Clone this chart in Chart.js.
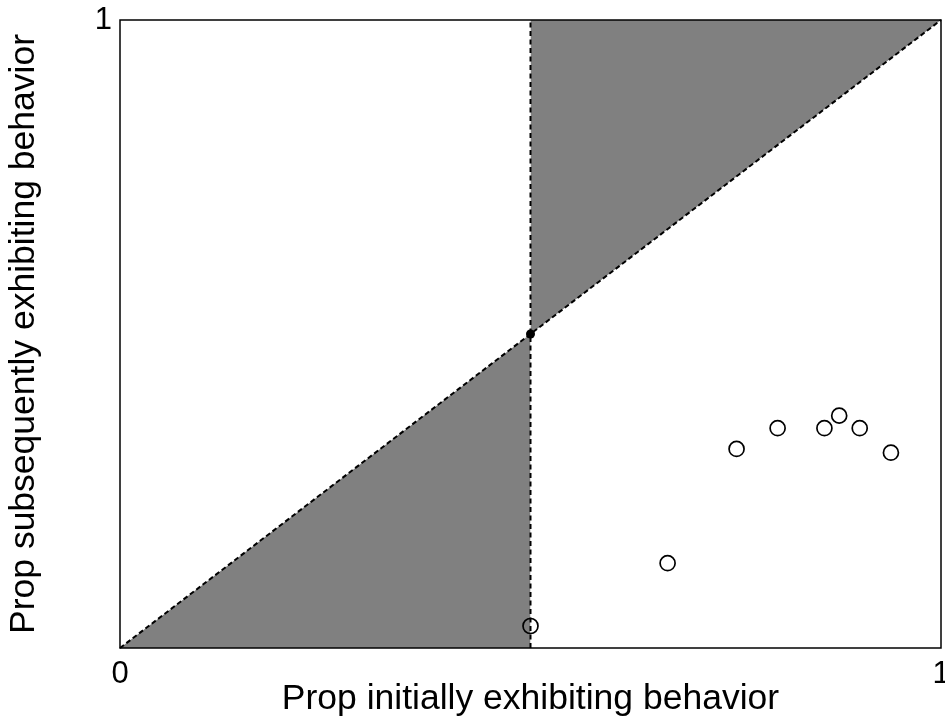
<!DOCTYPE html>
<html>
<head>
<meta charset="utf-8">
<script src="https://cdn.jsdelivr.net/npm/chart.js@4/dist/chart.umd.min.js"></script>
<style>
  html, body { margin: 0; padding: 0; background: #fff; }
</style>
</head>
<body>
<canvas id="propChart" width="945" height="721"></canvas>
<script>
const initialProp = [0.500, 0.667, 0.751, 0.801, 0.858, 0.876, 0.901, 0.939];
const subsequentProp = [0.035, 0.135, 0.317, 0.350, 0.350, 0.370, 0.350, 0.311];

// reference geometry: identity line and the 0.5 threshold
const diagonalX = [0, 1];
const diagonalY = [0, 1];
const thresholdX = 0.5;
const tickLabels = ["0", "1"];

const pts = (xs, ys) => xs.map((x, i) => ({ x: x, y: ys[i] }));

// frame round the plot area (top + right sides too)
const framePlugin = {
  id: "frame",
  afterDraw(chart) {
    const { ctx, chartArea: a } = chart;
    ctx.save();
    ctx.strokeStyle = "#000";
    ctx.lineWidth = 1.5;
    ctx.strokeRect(a.left, a.top, a.right - a.left, a.bottom - a.top);
    ctx.restore();
  }
};

const fontFam = "'Liberation Sans', Arial, sans-serif";

new Chart(document.getElementById("propChart"), {
  type: "scatter",
  data: {
    datasets: [
      {
        // lower shaded triangle
        data: pts([0, thresholdX], [0, thresholdX]),
        order: 4,
        showLine: true,
        borderWidth: 0,
        pointRadius: 0,
        backgroundColor: "#808080",
        fill: "origin"
      },
      {
        // upper shaded triangle
        data: pts([thresholdX, 1], [thresholdX, 1]),
        order: 4,
        showLine: true,
        borderWidth: 0,
        pointRadius: 0,
        backgroundColor: "#808080",
        fill: "end"
      },
      {
        data: pts(diagonalX, diagonalY),
        order: 3,
        showLine: true,
        borderColor: "#000",
        borderWidth: 2,
        borderDash: [5, 3],
        pointRadius: 0,
        fill: false
      },
      {
        data: pts([thresholdX, thresholdX], [0, 1]),
        order: 3,
        showLine: true,
        borderColor: "#000",
        borderWidth: 2,
        borderDash: [5, 3.5],
        pointRadius: 0,
        fill: false
      },
      {
        // crossing point
        data: pts([thresholdX], [thresholdX]),
        order: 2,
        pointRadius: 4.5,
        pointBorderWidth: 0,
        backgroundColor: "#000",
        borderColor: "#000"
      },
      {
        data: pts(initialProp, subsequentProp),
        order: 1,
        pointRadius: 7.5,
        pointBorderWidth: 1.7,
        borderColor: "#000",
        backgroundColor: "rgba(0,0,0,0)"
      }
    ]
  },
  options: {
    responsive: false,
    animation: false,
    clip: false,
    layout: { autoPadding: false, padding: { top: 20, right: 4, left: 0, bottom: 0 } },
    plugins: {
      legend: { display: false },
      tooltip: { enabled: false }
    },
    scales: {
      x: {
        min: 0,
        max: 1,
        grid: { display: false, drawTicks: false },
        border: { display: false },
        ticks: {
          stepSize: 1,
          padding: 8,
          color: "#000",
          font: { family: fontFam, size: 31 },
          maxRotation: 0,
          callback: v => tickLabels[v] ?? ""
        },
        title: {
          display: true,
          text: "Prop initially exhibiting behavior",
          color: "#000",
          font: { family: fontFam, size: 35.5 },
          padding: { top: 0, bottom: 0 }
        },
        afterFit: s => { s.height = 73; s.paddingLeft = 0; s.paddingRight = 0; }
      },
      y: {
        min: 0,
        max: 1,
        grid: { display: false, drawTicks: false },
        border: { display: false },
        ticks: {
          stepSize: 1,
          padding: 8,
          color: "#000",
          font: { family: fontFam, size: 31 },
          callback: v => (v === 1 ? "1" : "")
        },
        title: {
          display: true,
          text: "Prop subsequently exhibiting behavior",
          color: "#000",
          font: { family: fontFam, size: 35.5 },
          padding: { top: 3, bottom: 0 }
        },
        afterFit: s => { s.width = 120; s.paddingTop = 0; s.paddingBottom = 0; }
      }
    }
  },
  plugins: [framePlugin]
});
</script>
</body>
</html>
